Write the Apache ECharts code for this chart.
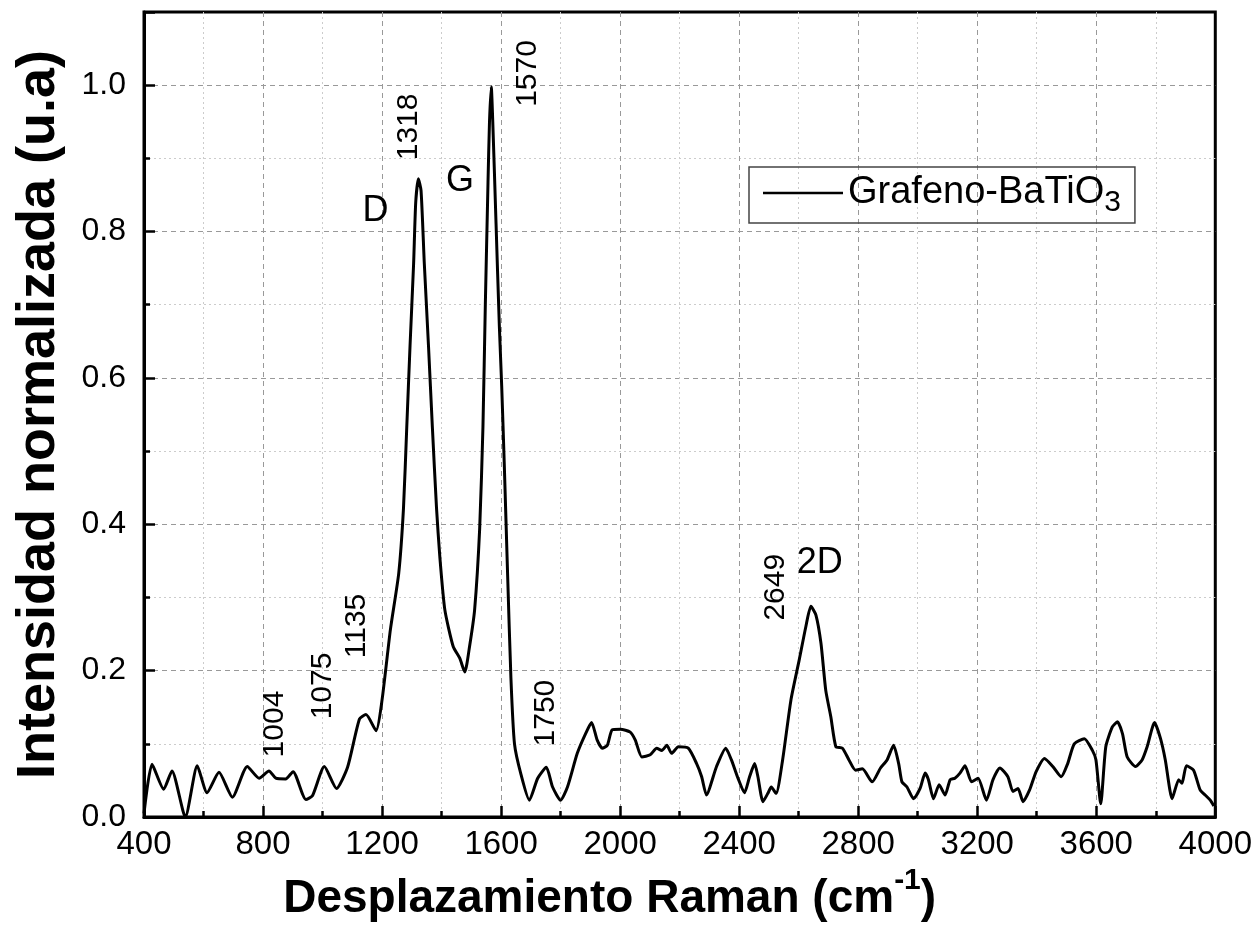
<!DOCTYPE html>
<html>
<head>
<meta charset="utf-8">
<script src="https://cdn.jsdelivr.net/npm/echarts@6/dist/echarts.min.js"></script>
<style>
html,body{margin:0;padding:0;background:#fff;}
#main{width:1255px;height:930px;}
</style>
</head>
<body>
<div id="main"></div>
<script>
// Raman shift (cm-1) and normalised intensity
var ramanShift = [400,427,466,494,539,579,612,652,697,747,787,820,843,876,901,944,966,1006,1047,1084,1124,1146,1180,1200,1228,1256,1272,1283,1294,1306,1313,1322,1331,1342,1356,1369,1383,1394,1411,1439,1461,1478,1494,1511,1528,1539,1547,1556,1561,1567,1572,1583,1594,1602,1611,1622,1633,1645,1667,1695,1723,1752,1773,1800,1823,1856,1884,1904,1923,1940,1957,1973,2001,2034,2051,2073,2101,2123,2140,2157,2173,2196,2229,2257,2274,2290,2324,2355,2374,2396,2418,2435,2452,2463,2480,2496,2508,2524,2546,2574,2602,2624,2641,2658,2675,2691,2708,2725,2747,2769,2791,2814,2847,2875,2897,2919,2936,2947,2964,2986,3008,3025,3036,3053,3072,3092,3109,3125,3142,3159,3181,3203,3231,3253,3276,3303,3320,3337,3354,3376,3398,3426,3454,3482,3504,3526,3560,3587,3599,3615,3632,3654,3671,3688,3704,3732,3754,3771,3796,3816,3832,3855,3877,3888,3903,3927,3949,3966,3983,3995];
var intensity = [0.005,0.072,0.038,0.063,0.0,0.070,0.033,0.061,0.027,0.069,0.053,0.063,0.053,0.052,0.062,0.024,0.029,0.069,0.039,0.068,0.134,0.140,0.118,0.160,0.256,0.333,0.422,0.533,0.644,0.756,0.839,0.872,0.856,0.756,0.644,0.533,0.422,0.356,0.283,0.233,0.217,0.198,0.233,0.283,0.394,0.533,0.700,0.867,0.950,0.998,0.950,0.811,0.672,0.589,0.478,0.330,0.190,0.100,0.058,0.023,0.053,0.068,0.041,0.023,0.041,0.087,0.114,0.129,0.105,0.094,0.098,0.119,0.120,0.116,0.105,0.082,0.085,0.094,0.091,0.098,0.087,0.096,0.094,0.073,0.055,0.030,0.069,0.094,0.078,0.053,0.033,0.055,0.073,0.055,0.021,0.032,0.041,0.032,0.078,0.160,0.215,0.260,0.288,0.276,0.237,0.173,0.137,0.096,0.094,0.078,0.064,0.066,0.048,0.067,0.078,0.098,0.073,0.048,0.041,0.025,0.039,0.060,0.051,0.025,0.044,0.030,0.051,0.053,0.060,0.070,0.048,0.053,0.023,0.051,0.067,0.055,0.035,0.039,0.021,0.037,0.062,0.080,0.069,0.055,0.073,0.100,0.107,0.091,0.078,0.018,0.096,0.123,0.130,0.114,0.082,0.069,0.078,0.096,0.129,0.107,0.078,0.025,0.051,0.046,0.070,0.064,0.037,0.030,0.023,0.015];

// peak annotations (text, x, y in data units)
var peakLabels = ['1004','1075','1135','1318','1570','1750','2649'];
var peakLabelX = [841,1001,1115,1288,1689,1749,2524];
var peakLabelY = [0.127,0.179,0.261,0.943,1.016,0.142,0.314];
var bandNames = ['D','G','2D'];
var bandX = [1178,1462,2671];
var bandY = [0.828,0.869,0.347];

var FONT = 'Liberation Sans, Arial, sans-serif';
var myChart = echarts.init(document.getElementById('main'));

var points = [];
for (var i = 0; i < ramanShift.length; i++) {
  points.push([ramanShift[i], intensity[i]]);
}

var option = {
  backgroundColor: '#fff',
  animation: false,
  grid: {
    left: 144, right: 33, top: 12, bottom: 113,
    show: true, borderColor: '#000', borderWidth: 3
  },
  legend: {
    left: 749, top: 167,
    borderColor: '#444', borderWidth: 1.5,
    padding: [7, 14, 5, 14],
    icon: 'rect',
    itemWidth: 80, itemHeight: 2.5,
    textStyle: {
      fontFamily: FONT, fontSize: 38, color: '#000',
      rich: {
        sub: { fontFamily: FONT, fontSize: 30, color: '#000', verticalAlign: 'bottom', lineHeight: 50 }
      }
    },
    formatter: function (name) { return 'Grafeno-BaTiO{sub|3}'; }
  },
  xAxis: {
    type: 'value',
    min: 400, max: 4000, interval: 400,
    name: '{t|Desplazamiento Raman (cm}{sup|-1}{t|)}',
    nameLocation: 'middle', nameGap: 48,
    nameTextStyle: {
      fontFamily: FONT, fontSize: 46, fontWeight: 'bold', color: '#000',
      padding: [0, 140, 0, 0],
      rich: {
        t: { fontFamily: FONT, fontSize: 46, fontWeight: 'bold', color: '#000', lineHeight: 66 },
        sup: { fontFamily: FONT, fontSize: 30, fontWeight: 'bold', color: '#000', verticalAlign: 'top', lineHeight: 30 }
      }
    },
    axisLine: { show: true, onZero: false, lineStyle: { color: '#000', width: 3 } },
    axisTick: { inside: true, length: 11, lineStyle: { color: '#000', width: 2.5 } },
    minorTick: { show: true, splitNumber: 2, length: 6, lineStyle: { color: '#000', width: 2.5 } },
    axisLabel: {
      fontFamily: FONT, fontSize: 33, color: '#000', margin: 11,
      formatter: function (v) { return String(v); }
    },
    splitLine: { show: true, showMinLine: false, showMaxLine: false, lineStyle: { color: '#999', type: [5, 4], width: 1 } },
    minorSplitLine: { show: true, lineStyle: { color: '#ccc', type: [2, 3], width: 1 } }
  },
  yAxis: {
    type: 'value',
    min: 0, max: 1.1, interval: 0.2,
    name: 'Intensidad normalizada (u.a)',
    nameLocation: 'middle', nameGap: 78,
    nameTextStyle: { fontFamily: FONT, fontSize: 54, fontWeight: 'bold', color: '#000' },
    axisLine: { show: true, onZero: false, lineStyle: { color: '#000', width: 3 } },
    axisTick: { inside: true, length: 11, lineStyle: { color: '#000', width: 2.5 } },
    minorTick: { show: true, splitNumber: 2, length: 6, lineStyle: { color: '#000', width: 2.5 } },
    axisLabel: {
      fontFamily: FONT, fontSize: 32, color: '#000', margin: 18,
      formatter: function (v) { return v > 1.05 ? '' : v.toFixed(1); }
    },
    splitLine: { show: true, showMinLine: false, showMaxLine: false, lineStyle: { color: '#999', type: [5, 4], width: 1 } },
    minorSplitLine: { show: true, lineStyle: { color: '#ccc', type: [2, 3], width: 1 } }
  },
  series: [{
    name: 'Grafeno-BaTiO3',
    type: 'line',
    data: points,
    symbol: 'none',
    smooth: 0.2,
    lineStyle: { color: '#000', width: 3 },
    itemStyle: { color: '#000' }
  }]
};
myChart.setOption(option);

// annotations positioned through the chart's own coordinate system
var graphics = [];
for (var j = 0; j < peakLabels.length; j++) {
  var p = myChart.convertToPixel({ gridIndex: 0 }, [peakLabelX[j], peakLabelY[j]]);
  graphics.push({
    type: 'text', x: p[0], y: p[1], rotation: Math.PI / 2,
    style: { text: peakLabels[j], font: '30px ' + FONT, fill: '#000', align: 'center', verticalAlign: 'middle' }
  });
}
for (var k = 0; k < bandNames.length; k++) {
  var q = myChart.convertToPixel({ gridIndex: 0 }, [bandX[k], bandY[k]]);
  graphics.push({
    type: 'text', x: q[0], y: q[1],
    style: { text: bandNames[k], font: '36px ' + FONT, fill: '#000', align: 'center', verticalAlign: 'middle' }
  });
}
myChart.setOption({ graphic: graphics });
</script>
</body>
</html>
